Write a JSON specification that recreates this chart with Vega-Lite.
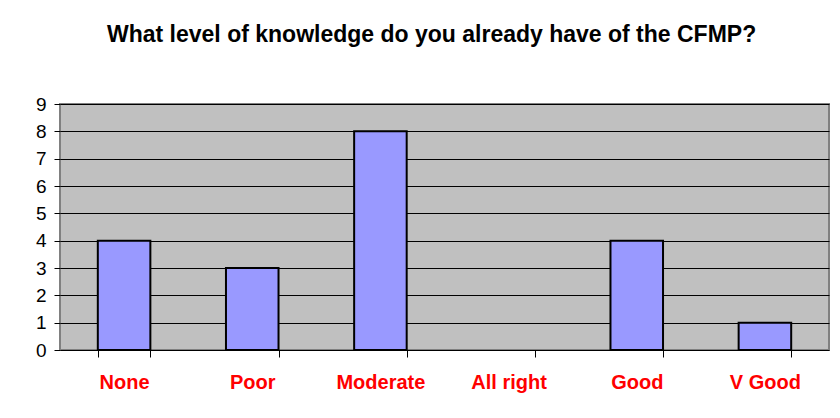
{
  "$schema": "https://vega.github.io/schema/vega-lite/v6.json",
  "width": 769,
  "height": 246,
  "autosize": {"type": "none"},
  "padding": {"left": 60, "top": 104, "right": 11, "bottom": 68},
  "background": "white",
  "title": {
    "text": "What level of knowledge do you already have of the CFMP?",
    "font": "Liberation Sans",
    "fontSize": 23,
    "fontWeight": "bold",
    "color": "black",
    "anchor": "start",
    "frame": "group",
    "dx": 47,
    "offset": 48
  },
  "data": {
    "values": [
      {"level": "None", "count": 4},
      {"level": "Poor", "count": 3},
      {"level": "Moderate", "count": 8},
      {"level": "All right", "count": 0},
      {"level": "Good", "count": 4},
      {"level": "V Good", "count": 1}
    ]
  },
  "layer": [
    {
      "transform": [{"filter": "datum.count > 0"}],
      "mark": {"type": "bar", "color": "#9999FF", "stroke": "black", "strokeWidth": 2},
      "encoding": {
        "x": {
          "field": "level",
          "type": "nominal",
          "sort": ["None", "Poor", "Moderate", "All right", "Good", "V Good"],
          "scale": {"domain": ["None", "Poor", "Moderate", "All right", "Good", "V Good"], "paddingInner": 0.59, "paddingOuter": 0.295},
          "axis": {
            "title": null,
            "labelAngle": 0,
            "labelColor": "red",
            "labelFont": "Liberation Sans",
            "labelFontSize": 20,
            "labelFontWeight": "bold",
            "labelPadding": 15,
            "domain": false,
            "ticks": true,
            "tickBand": "extent",
            "tickColor": "black",
            "tickSize": 7,
            "grid": false
          }
        },
        "y": {
          "field": "count",
          "type": "quantitative",
          "scale": {"domain": [0, 9], "nice": false},
          "axis": {
            "title": null,
            "values": [0,1,2,3,4,5,6,7,8,9],
            "labelFont": "Liberation Sans",
            "labelFontSize": 19,
            "labelColor": "black",
            "labelPadding": 8,
            "domain": false,
            "tickColor": "black",
            "tickSize": 6,
            "grid": true,
            "gridColor": "black",
            "gridWidth": 1
          }
        }
      }
    }
  ],
  "config": {
    "view": {"fill": "#C0C0C0", "stroke": "#808080", "strokeWidth": 2}
  }
}
